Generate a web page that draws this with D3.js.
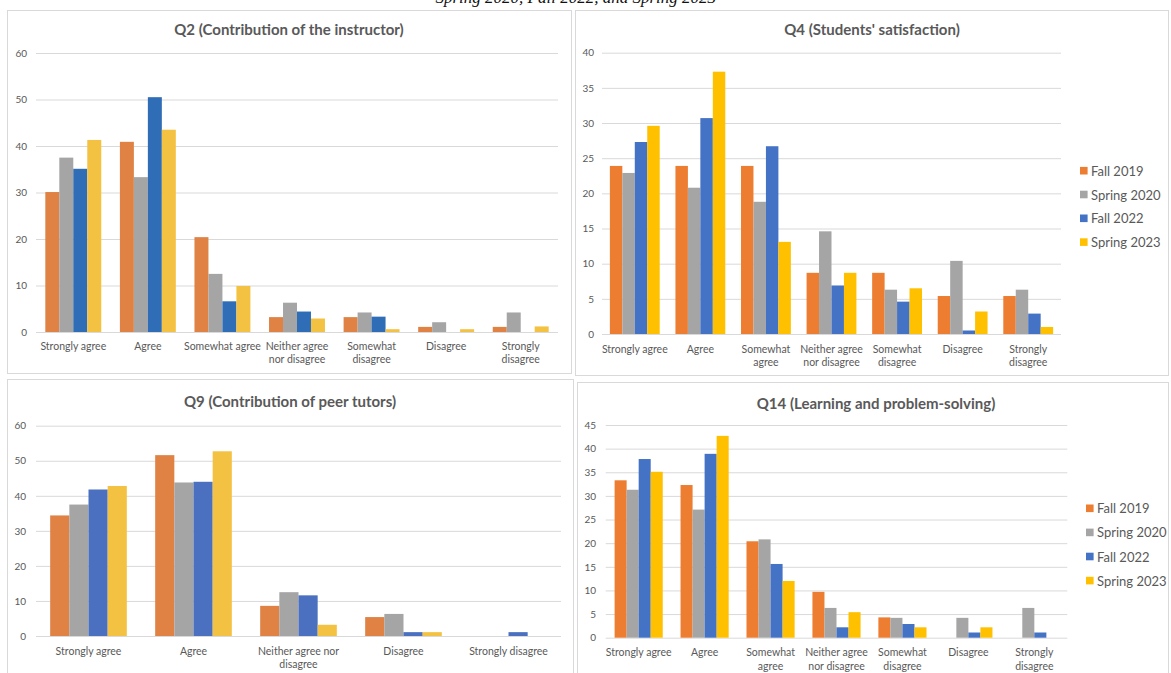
<!DOCTYPE html>
<html>
<head>
<meta charset="utf-8">
<script src="https://cdn.jsdelivr.net/npm/d3@7"></script>
<style>
  html, body { margin: 0; padding: 0; background: #ffffff; }
  svg { display: block; }
</style>
</head>
<body>
<svg id="chart" width="1171" height="673"></svg>
<script>
// ---- Data (percent of respondents per answer, by semester) ----
const seriesNames = ["Fall 2019", "Spring 2020", "Fall 2022", "Spring 2023"];

const categoriesLong = ["Strongly agree", "Agree", "Somewhat agree", "Neither agree nor disagree",
                        "Somewhat disagree", "Disagree", "Strongly disagree"];
const categoriesShort = ["Strongly agree", "Agree", "Neither agree nor disagree", "Disagree", "Strongly disagree"];

// Tick label lines for each panel's category axis
const q2CategoryLines = [["Strongly agree"], ["Agree"], ["Somewhat agree"], ["Neither agree", "nor disagree"],
                         ["Somewhat", "disagree"], ["Disagree"], ["Strongly", "disagree"]];
const q4CategoryLines = [["Strongly agree"], ["Agree"], ["Somewhat", "agree"], ["Neither agree", "nor disagree"],
                         ["Somewhat", "disagree"], ["Disagree"], ["Strongly", "disagree"]];
const q9CategoryLines = [["Strongly agree"], ["Agree"], ["Neither agree nor", "disagree"], ["Disagree"],
                         ["Strongly disagree"]];
const q14CategoryLines = q4CategoryLines;

// Q2 (Contribution of the instructor)
const q2Fall2019   = [30.1, 40.9, 20.4, 3.2, 3.2, 1.1, 1.1];
const q2Spring2020 = [37.5, 33.3, 12.5, 6.3, 4.2, 2.1, 4.2];
const q2Fall2022   = [35.1, 50.5, 6.6, 4.4, 3.3, 0, 0];
const q2Spring2023 = [41.3, 43.5, 9.9, 2.9, 0.6, 0.6, 1.2];
const q2Ticks = [0, 10, 20, 30, 40, 50, 60];

// Q4 (Students' satisfaction)
const q4Fall2019   = [23.9, 23.9, 23.9, 8.7, 8.7, 5.4, 5.4];
const q4Spring2020 = [22.9, 20.8, 18.8, 14.6, 6.3, 10.4, 6.3];
const q4Fall2022   = [27.3, 30.7, 26.7, 6.9, 4.6, 0.5, 2.9];
const q4Spring2023 = [29.6, 37.3, 13.1, 8.7, 6.5, 3.2, 1.0];
const q4Ticks = [0, 5, 10, 15, 20, 25, 30, 35, 40];

// Q9 (Contribution of peer tutors)
const q9Fall2019   = [34.4, 51.6, 8.6, 5.4, 0];
const q9Spring2020 = [37.5, 43.8, 12.5, 6.3, 0];
const q9Fall2022   = [41.8, 44.0, 11.6, 1.1, 1.1];
const q9Spring2023 = [42.8, 52.7, 3.2, 1.1, 0];
const q9Ticks = [0, 10, 20, 30, 40, 50, 60];

// Q14 (Learning and problem-solving)
const q14Fall2019   = [33.3, 32.3, 20.4, 9.7, 4.3, 0, 0];
const q14Spring2020 = [31.3, 27.1, 20.8, 6.3, 4.2, 4.2, 6.3];
const q14Fall2022   = [37.8, 38.9, 15.6, 2.2, 2.9, 1.1, 1.1];
const q14Spring2023 = [35.1, 42.7, 12.0, 5.4, 2.2, 2.2, 0];
const q14Ticks = [0, 5, 10, 15, 20, 25, 30, 35, 40, 45];

// ---- Drawing ----
const svg = d3.select("#chart");
const FONT = "Lato, 'Open Sans', sans-serif";
const TEXT_COLOR = "#595959";
const GRID_COLOR = "#D9D9D9";

// Heading line of the page sits mostly above the visible area
svg.append("text")
  .attr("x", 716).attr("y", 2.5)
  .attr("text-anchor", "end")
  .attr("font-family", "'Liberation Serif', 'DejaVu Serif', serif")
  .attr("font-style", "italic")
  .attr("font-size", 17)
  .attr("fill", "#111")
  .text("Spring 2020, Fall 2022, and Spring 2023");

const paletteA = ["#DF8244", "#A5A5A5", "#2F6EB6", "#F4C242"];
const paletteB = ["#ED7D31", "#A5A5A5", "#4472C4", "#FFC000"];
const paletteC = ["#DF8244", "#A5A5A5", "#4A70BF", "#F4C243"];

const panels = [
  {
    title: "Q2 (Contribution of the instructor)",
    categories: categoriesLong, lines: q2CategoryLines,
    series: [q2Fall2019, q2Spring2020, q2Fall2022, q2Spring2023],
    ticks: q2Ticks, colors: paletteA,
    box: [7.5, 10.5, 564, 363],
    plot: { left: 36, right: 558, top: 53, bottom: 332 },
    titleX: 289, titleY: 29, labelRight: 27, catY: 346, pad: 0.25, legend: null
  },
  {
    title: "Q4 (Students' satisfaction)",
    categories: categoriesLong, lines: q4CategoryLines,
    series: [q4Fall2019, q4Spring2020, q4Fall2022, q4Spring2023],
    ticks: q4Ticks, colors: paletteB,
    box: [575.5, 10.5, 593, 365],
    plot: { left: 602, right: 1061, top: 52.7, bottom: 334 },
    titleX: 872, titleY: 29, labelRight: 594, catY: 349, pad: 0.24,
    legend: { x: 1080, y: 170.7, step: 23.8 }
  },
  {
    title: "Q9 (Contribution of peer tutors)",
    categories: categoriesShort, lines: q9CategoryLines,
    series: [q9Fall2019, q9Spring2020, q9Fall2022, q9Spring2023],
    ticks: q9Ticks, colors: paletteC,
    box: [7.5, 379.5, 566, 300],
    plot: { left: 36, right: 561, top: 425.7, bottom: 636 },
    titleX: 290, titleY: 401, labelRight: 26, catY: 651, pad: 0.27, legend: null
  },
  {
    title: "Q14 (Learning and problem-solving)",
    categories: categoriesLong, lines: q14CategoryLines,
    series: [q14Fall2019, q14Spring2020, q14Fall2022, q14Spring2023],
    ticks: q14Ticks, colors: paletteB,
    box: [577.5, 382.5, 591, 300],
    plot: { left: 605.7, right: 1067.3, top: 425, bottom: 637.7 },
    titleX: 876, titleY: 402.7, labelRight: 596, catY: 652.5, pad: 0.27,
    legend: { x: 1086, y: 508.3, step: 24.1 }
  }
];

panels.forEach(p => {
  const g = svg.append("g");

  // Chart area frame
  g.append("rect")
    .attr("x", p.box[0]).attr("y", p.box[1])
    .attr("width", p.box[2]).attr("height", p.box[3])
    .attr("fill", "#fff").attr("stroke", GRID_COLOR).attr("stroke-width", 1);

  // Title
  g.append("text")
    .attr("x", p.titleX).attr("y", p.titleY)
    .attr("text-anchor", "middle").attr("dominant-baseline", "central")
    .attr("font-family", FONT).attr("font-weight", 700).attr("font-size", 15)
    .attr("fill", TEXT_COLOR)
    .text(p.title);

  const yMax = p.ticks[p.ticks.length - 1];
  const y = d3.scaleLinear().domain([0, yMax]).range([p.plot.bottom, p.plot.top]);
  const x0 = d3.scaleBand().domain(p.categories)
    .range([p.plot.left, p.plot.right])
    .paddingInner(p.pad).paddingOuter(p.pad / 2);
  const x1 = d3.scaleBand().domain(seriesNames).range([0, x0.bandwidth()]);

  // Value axis with gridlines
  const yAxis = d3.axisLeft(y).tickValues(p.ticks)
    .tickSize(-(p.plot.right - p.plot.left)).tickPadding(p.plot.left - p.labelRight);
  const ya = g.append("g").attr("transform", `translate(${p.plot.left},0)`).call(yAxis);
  ya.select(".domain").remove();
  ya.selectAll(".tick line").attr("stroke", GRID_COLOR).attr("stroke-width", 1);
  ya.selectAll(".tick text")
    .attr("font-family", FONT).attr("font-size", 10).attr("fill", TEXT_COLOR);

  // Bars
  const rows = p.categories.map((c, i) => ({
    cat: c,
    vals: seriesNames.map((s, k) => ({ name: s, k, v: p.series[k][i] }))
  }));
  g.selectAll("g.cat").data(rows).join("g")
    .attr("class", "cat")
    .attr("transform", d => `translate(${x0(d.cat)},0)`)
    .selectAll("rect").data(d => d.vals.filter(e => e.v > 0)).join("rect")
    .attr("x", d => x1(d.name))
    .attr("width", x1.bandwidth())
    .attr("y", d => y(d.v))
    .attr("height", d => y(0) - y(d.v))
    .attr("fill", d => p.colors[d.k]);

  // Category axis labels
  const xAxis = d3.axisBottom(x0).tickSize(0).tickFormat(() => "");
  const xa = g.append("g").attr("transform", `translate(0,${p.plot.bottom})`).call(xAxis);
  xa.select(".domain").remove();
  xa.selectAll(".tick").each(function(c, i) {
    const t = d3.select(this).select("text")
      .attr("y", 0).attr("dy", 0)
      .attr("font-family", FONT).attr("font-size", 10.5).attr("fill", TEXT_COLOR);
    p.lines[i].forEach((line, j) => {
      t.append("tspan")
        .attr("x", 0)
        .attr("y", p.catY - p.plot.bottom + j * 13.4)
        .attr("dominant-baseline", "central")
        .text(line);
    });
  });

  // Legend
  if (p.legend) {
    const lg = g.append("g");
    seriesNames.forEach((s, k) => {
      const cy = p.legend.y + k * p.legend.step;
      lg.append("rect")
        .attr("x", p.legend.x).attr("y", cy - 3.8)
        .attr("width", 7.6).attr("height", 7.6)
        .attr("fill", p.colors[k]);
      lg.append("text")
        .attr("x", p.legend.x + 11).attr("y", cy)
        .attr("dominant-baseline", "central")
        .attr("font-family", FONT).attr("font-size", 13).attr("fill", TEXT_COLOR)
        .text(s);
    });
  }
});
</script>
</body>
</html>
